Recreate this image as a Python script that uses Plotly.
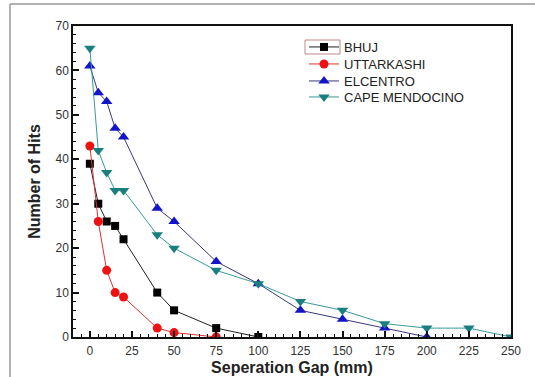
import plotly.graph_objects as go

gap_bhuj = [0, 5, 10, 15, 20, 40, 50, 75, 100]
hits_bhuj = [39, 30, 26, 25, 22, 10, 6, 2, 0]

gap_uttarkashi = [0, 5, 10, 15, 20, 40, 50, 75]
hits_uttarkashi = [43, 26, 15, 10, 9, 2, 1, 0]

gap_elcentro = [0, 5, 10, 15, 20, 40, 50, 75, 100, 125, 150, 175, 200]
hits_elcentro = [61, 55, 53, 47, 45, 29, 26, 17, 12, 6, 4, 2, 0]

gap_cape = [0, 5, 10, 15, 20, 40, 50, 75, 100, 125, 150, 175, 200, 225, 250]
hits_cape = [65, 42, 37, 33, 33, 23, 20, 15, 12, 8, 6, 3, 2, 2, 0]

x_ticks = [0, 25, 50, 75, 100, 125, 150, 175, 200, 225, 250]
y_ticks = [0, 10, 20, 30, 40, 50, 60, 70]

FONT = "Liberation Sans, Arial, sans-serif"

# plot area in pixels (for paper-coordinate decorations)
W, H = 535, 377
ML, MR, MT, MB = 73, 24, 26, 40
PW, PH = W - ML - MR, H - MT - MB


def px_x(px):
    return (px - ML) / PW


def px_y(py):
    return (H - MB - py) / PH


fig = go.Figure()
fig.add_trace(go.Scatter(x=gap_bhuj, y=hits_bhuj, name="BHUJ", mode="lines+markers",
                         legend="legend", showlegend=True,
                         line=dict(color="#222222", width=1),
                         marker=dict(symbol="square", size=8, color="#000000")))
fig.add_trace(go.Scatter(x=gap_uttarkashi, y=hits_uttarkashi, name="UTTARKASHI", mode="lines+markers",
                         legend="legend2", showlegend=True,
                         line=dict(color="#e03030", width=1),
                         marker=dict(symbol="circle", size=9, color="#ee1111")))
fig.add_trace(go.Scatter(x=gap_elcentro, y=hits_elcentro, name="ELCENTRO", mode="lines+markers",
                         legend="legend3", showlegend=True,
                         line=dict(color="#3a3a7a", width=1),
                         marker=dict(symbol="triangle-up", size=10, color="#1414c8")))
fig.add_trace(go.Scatter(x=gap_cape, y=hits_cape, name="CAPE MENDOCINO", mode="lines+markers",
                         legend="legend4", showlegend=True,
                         line=dict(color="#3a9a9a", width=1),
                         marker=dict(symbol="triangle-down", size=10, color="#1a7f7f")))

axis_common = dict(showline=True, linecolor="#111111", linewidth=1.5, mirror=True,
                   ticks="inside", ticklen=6, tickwidth=1.5, tickcolor="#111111",
                   showgrid=False, zeroline=False, automargin=False,
                   tickfont=dict(family=FONT, size=12, color="#333333"))

fig.update_xaxes(range=[-10, 250], tickvals=x_ticks, ticklabelstandoff=2,
                 minor=dict(ticks="inside", ticklen=3, dtick=5, tickcolor="#111111", tickwidth=1),
                 title=dict(text="<b>Seperation Gap (mm)</b>", standoff=5,
                            font=dict(family=FONT, size=16, color="#222222")),
                 **axis_common)
fig.update_yaxes(range=[0, 70], tickvals=y_ticks,
                 minor=dict(ticks="inside", ticklen=3, dtick=2, tickcolor="#111111", tickwidth=1),
                 title=dict(text="<b>Number of Hits</b>", standoff=11,
                            font=dict(family=FONT, size=16, color="#222222")),
                 **axis_common)

legend_font = dict(family=FONT, size=13, color="#222222")
legend_x = px_x(304)
legend_rows = [47, 64, 81, 97]


def leg(row_px):
    return dict(x=legend_x, y=px_y(row_px), xanchor="left", yanchor="middle",
                bgcolor="rgba(0,0,0,0)", borderwidth=0, font=legend_font)


fig.update_layout(
    width=W, height=H,
    margin=dict(l=ML, r=MR, t=MT, b=MB, autoexpand=False),
    paper_bgcolor="white", plot_bgcolor="white",
    font=dict(family=FONT),
    showlegend=True,
    legend=leg(legend_rows[0]),
    legend2=leg(legend_rows[1]),
    legend3=leg(legend_rows[2]),
    legend4=leg(legend_rows[3]),
    shapes=[
        dict(type="line", xref="paper", yref="paper", x0=px_x(10), x1=px_x(540),
             y0=px_y(4), y1=px_y(4), line=dict(color="#999999", width=1.5)),
        dict(type="line", xref="paper", yref="paper", x0=px_x(10), x1=px_x(10),
             y0=px_y(385), y1=px_y(4), line=dict(color="#999999", width=1.5)),
        dict(type="rect", xref="paper", yref="paper", x0=px_x(305), x1=px_x(340),
             y0=px_y(54), y1=px_y(40), line=dict(color="#c08888", width=1)),
    ],
)

fig.write_html("out.html")
